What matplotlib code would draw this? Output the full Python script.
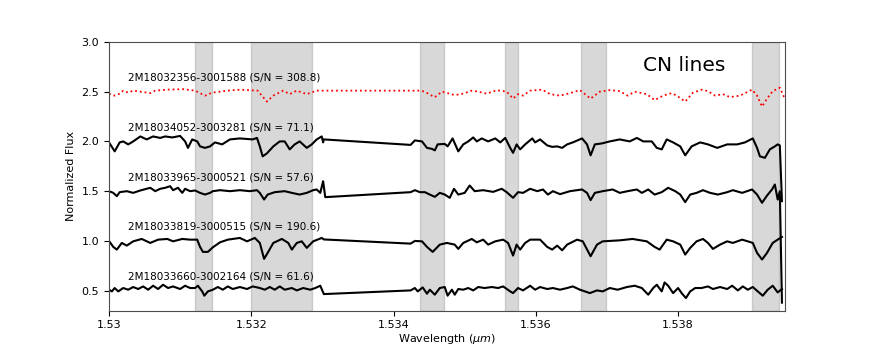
from matplotlib import pyplot as plt

# star ids, S/N and vertical offsets (top to bottom)
names = ['2M18032356-3001588', '2M18034052-3003281', '2M18033965-3000521',
         '2M18033819-3000515', '2M18033660-3002164']
snr = [308.8, 71.1, 57.6, 190.6, 61.6]
offsets = [1.5, 1.0, 0.5, 0.0, -0.5]

# CN line windows
cn_start = [1.53121, 1.53200, 1.53437, 1.53557, 1.53663, 1.53904]
cn_end = [1.53145, 1.53286, 1.53471, 1.53575, 1.53698, 1.53942]

xticks = [1.530, 1.532, 1.534, 1.536, 1.538]
xtick_labels = ['1.53', '1.532', '1.534', '1.536', '1.538']

# high S/N star
wave_a = [1.53000, 1.53008, 1.53015, 1.53020, 1.53027, 1.53034, 1.53044, 1.53058, 1.53065, 1.53082,
          1.53104, 1.53121, 1.53128, 1.53135, 1.53145, 1.53156, 1.53166, 1.53184, 1.53209, 1.53216,
          1.53222, 1.53231, 1.53245, 1.53254, 1.53264, 1.53278, 1.53292, 1.53315, 1.53353, 1.53395,
          1.53437, 1.53444, 1.53451, 1.53458, 1.53468, 1.53476, 1.53486, 1.53498, 1.53510, 1.53519,
          1.53531, 1.53545, 1.53559, 1.53568, 1.53575, 1.53582, 1.53592, 1.53609, 1.53620, 1.53634,
          1.53648, 1.53662, 1.53677, 1.53690, 1.53704, 1.53718, 1.53729, 1.53739, 1.53756, 1.53767,
          1.53779, 1.53791, 1.53798, 1.53810, 1.53821, 1.53833, 1.53842, 1.53852, 1.53863, 1.53873,
          1.53887, 1.53904, 1.53911, 1.53918, 1.53925, 1.53933, 1.53943, 1.53949]
flux_a = [0.98, 0.96, 0.98, 1.01, 0.99, 1.01, 1.00, 0.985, 1.01, 1.02,
          1.025, 1.01, 0.985, 0.96, 0.99, 1.00, 1.01, 1.02, 1.01, 0.95,
          0.90, 0.96, 1.01, 0.975, 1.01, 0.975, 1.01, 1.01, 1.01, 1.01,
          1.01, 1.00, 0.97, 0.945, 1.00, 0.985, 0.965, 0.98, 1.01, 1.00,
          0.98, 1.015, 1.00, 0.93, 0.975, 0.96, 1.01, 1.02, 0.975, 0.96,
          0.985, 1.015, 0.93, 1.00, 1.015, 1.005, 0.96, 1.00, 0.975, 0.915,
          0.96, 0.985, 0.96, 0.90, 0.99, 1.02, 1.005, 0.96, 0.975, 0.945,
          0.96, 1.02, 0.96, 0.85, 0.93, 1.005, 1.04, 0.945]

wave_b = [1.53000, 1.53008, 1.53015, 1.53020, 1.53027, 1.53034, 1.53044, 1.53053, 1.53062, 1.53072,
          1.53079, 1.53089, 1.53100, 1.53107, 1.53111, 1.53117, 1.53124, 1.53128, 1.53135, 1.53142,
          1.53149, 1.53159, 1.53170, 1.53184, 1.53202, 1.53208, 1.53212, 1.53216, 1.53222, 1.53231,
          1.53240, 1.53247, 1.53254, 1.53261, 1.53268, 1.53278, 1.53285, 1.53292, 1.53299, 1.53301,
          1.53302, 1.53424, 1.53430, 1.53440, 1.53447, 1.53454, 1.53458, 1.53462, 1.53472, 1.53476,
          1.53483, 1.53491, 1.53498, 1.53505, 1.53512, 1.53517, 1.53524, 1.53533, 1.53543, 1.53550,
          1.53557, 1.53564, 1.53568, 1.53573, 1.53578, 1.53585, 1.53595, 1.53599, 1.53606, 1.53616,
          1.53623, 1.53630, 1.53637, 1.53644, 1.53652, 1.53665, 1.53672, 1.53677, 1.53683, 1.53693,
          1.53704, 1.53718, 1.53732, 1.53742, 1.53751, 1.53763, 1.53770, 1.53777, 1.53784, 1.53793,
          1.53803, 1.53810, 1.53819, 1.53831, 1.53842, 1.53855, 1.53869, 1.53883, 1.53894, 1.53905,
          1.53911, 1.53915, 1.53922, 1.53929, 1.53936, 1.53940, 1.53943, 1.53946]
flux_b = [0.99, 0.90, 0.99, 1.00, 0.97, 1.00, 1.05, 1.02, 1.05, 1.035,
          1.05, 1.04, 1.055, 1.00, 0.935, 1.02, 1.00, 0.95, 0.935, 0.95,
          0.99, 0.97, 1.02, 1.03, 1.02, 1.035, 0.95, 0.85, 0.88, 0.95,
          1.00, 1.00, 0.92, 0.97, 1.00, 0.935, 0.97, 1.02, 1.05, 0.99,
          1.02, 0.965, 1.01, 1.00, 0.935, 0.925, 0.91, 0.97, 0.975, 0.95,
          1.03, 0.90, 0.97, 1.00, 1.04, 1.00, 1.03, 1.00, 1.03, 0.99,
          1.035, 0.935, 0.885, 0.97, 0.92, 0.97, 1.03, 0.99, 1.02, 0.96,
          0.945, 0.95, 0.935, 0.97, 0.99, 1.03, 0.97, 0.86, 0.97, 0.98,
          1.00, 1.02, 1.00, 1.035, 1.00, 1.00, 0.935, 0.92, 1.02, 0.99,
          0.95, 0.86, 0.95, 0.99, 0.97, 0.935, 0.97, 0.97, 0.99, 1.03,
          0.935, 0.85, 0.835, 0.92, 0.95, 0.97, 0.96, 0.40]

wave_c = [1.53000, 1.53006, 1.53011, 1.53015, 1.53025, 1.53034, 1.53044, 1.53058, 1.53065, 1.53072,
          1.53079, 1.53086, 1.53090, 1.53097, 1.53103, 1.53107, 1.53114, 1.53121, 1.53128, 1.53135,
          1.53142, 1.53146, 1.53156, 1.53170, 1.53184, 1.53198, 1.53208, 1.53212, 1.53218, 1.53223,
          1.53233, 1.53247, 1.53257, 1.53268, 1.53278, 1.53287, 1.53292, 1.53297, 1.53301, 1.53304,
          1.53424, 1.53430, 1.53437, 1.53444, 1.53451, 1.53458, 1.53465, 1.53472, 1.53479, 1.53485,
          1.53491, 1.53500, 1.53507, 1.53514, 1.53526, 1.53540, 1.53552, 1.53559, 1.53568, 1.53575,
          1.53582, 1.53592, 1.53602, 1.53610, 1.53617, 1.53624, 1.53634, 1.53648, 1.53665, 1.53672,
          1.53677, 1.53683, 1.53694, 1.53708, 1.53718, 1.53729, 1.53742, 1.53749, 1.53758, 1.53767,
          1.53777, 1.53786, 1.53796, 1.53803, 1.53810, 1.53817, 1.53826, 1.53835, 1.53845, 1.53856,
          1.53869, 1.53877, 1.53890, 1.53904, 1.53911, 1.53918, 1.53925, 1.53932, 1.53936, 1.53940,
          1.53943, 1.53946]
flux_c = [1.00, 0.983, 0.95, 0.99, 1.00, 0.983, 1.007, 1.034, 1.00, 1.024,
          1.034, 1.05, 1.01, 1.034, 0.983, 1.024, 1.00, 1.007, 0.983, 0.966,
          0.983, 1.00, 1.01, 1.00, 1.01, 1.00, 1.01, 0.983, 0.916, 0.966,
          0.99, 1.00, 0.983, 0.966, 0.983, 1.01, 1.017, 0.983, 1.10, 0.94,
          0.99, 1.01, 0.99, 0.99, 0.966, 0.943, 0.983, 0.966, 0.933, 1.024,
          0.966, 0.983, 1.057, 1.00, 1.01, 0.993, 1.024, 0.99, 0.933, 0.99,
          0.983, 1.024, 1.00, 1.017, 0.966, 1.00, 0.97, 1.00, 1.017, 0.983,
          0.91, 0.983, 1.00, 1.017, 0.983, 1.00, 1.017, 0.983, 1.017, 0.966,
          0.99, 1.034, 1.00, 0.966, 0.89, 0.966, 0.983, 1.01, 0.983, 0.966,
          0.99, 1.01, 0.983, 1.017, 0.966, 0.883, 0.956, 1.017, 1.067, 0.916,
          1.00, -0.12]

wave_d = [1.53000, 1.53006, 1.53011, 1.53018, 1.53025, 1.53034, 1.53046, 1.53058, 1.53069, 1.53082,
          1.53090, 1.53103, 1.53114, 1.53124, 1.53128, 1.53132, 1.53139, 1.53146, 1.53156, 1.53167,
          1.53184, 1.53194, 1.53205, 1.53212, 1.53218, 1.53223, 1.53231, 1.53243, 1.53252, 1.53257,
          1.53264, 1.53271, 1.53278, 1.53287, 1.53299, 1.53302, 1.53424, 1.53430, 1.53440, 1.53447,
          1.53455, 1.53465, 1.53475, 1.53486, 1.53491, 1.53498, 1.53510, 1.53517, 1.53526, 1.53533,
          1.53543, 1.53554, 1.53561, 1.53568, 1.53573, 1.53578, 1.53585, 1.53592, 1.53606, 1.53616,
          1.53623, 1.53630, 1.53637, 1.53644, 1.53658, 1.53666, 1.53677, 1.53686, 1.53694, 1.53718,
          1.53736, 1.53756, 1.53767, 1.53774, 1.53784, 1.53793, 1.53803, 1.53810, 1.53817, 1.53826,
          1.53835, 1.53842, 1.53849, 1.53859, 1.53869, 1.53877, 1.53890, 1.53898, 1.53905, 1.53911,
          1.53918, 1.53925, 1.53933, 1.53940, 1.53946]
flux_d = [1.00, 0.94, 0.913, 0.98, 0.953, 0.996, 1.02, 0.98, 1.013, 1.02,
          0.996, 1.02, 1.013, 1.013, 0.94, 0.89, 0.89, 0.936, 0.986, 1.013,
          1.03, 0.996, 1.03, 0.98, 0.82, 0.88, 0.98, 1.02, 0.98, 0.913,
          0.98, 0.996, 0.93, 0.996, 1.03, 1.015, 0.973, 1.00, 0.996, 0.94,
          0.89, 0.963, 0.98, 0.963, 0.92, 0.98, 1.02, 0.986, 1.013, 0.963,
          0.996, 1.013, 0.98, 0.853, 0.963, 0.913, 0.98, 1.013, 1.013, 0.94,
          0.913, 0.953, 0.906, 0.963, 1.013, 0.996, 0.846, 0.963, 0.996, 1.006,
          1.02, 0.996, 0.94, 0.913, 1.013, 0.996, 0.963, 0.863, 0.93, 0.996,
          1.02, 0.98, 0.92, 0.963, 0.996, 0.98, 1.013, 0.996, 0.98, 0.88,
          0.813, 0.88, 0.98, 1.013, 1.04]

wave_e = [1.53000, 1.53004, 1.53008, 1.53013, 1.53020, 1.53027, 1.53034, 1.53041, 1.53048, 1.53055,
          1.53062, 1.53069, 1.53076, 1.53083, 1.53090, 1.53100, 1.53107, 1.53114, 1.53121, 1.53125,
          1.53131, 1.53134, 1.53139, 1.53146, 1.53153, 1.53160, 1.53167, 1.53174, 1.53184, 1.53194,
          1.53202, 1.53212, 1.53219, 1.53226, 1.53233, 1.53240, 1.53247, 1.53257, 1.53264, 1.53273,
          1.53283, 1.53290, 1.53297, 1.53302, 1.53424, 1.53430, 1.53434, 1.53441, 1.53447, 1.53451,
          1.53458, 1.53465, 1.53472, 1.53476, 1.53482, 1.53486, 1.53491, 1.53498, 1.53505, 1.53512,
          1.53519, 1.53528, 1.53538, 1.53547, 1.53554, 1.53564, 1.53568, 1.53575, 1.53582, 1.53592,
          1.53599, 1.53606, 1.53616, 1.53624, 1.53634, 1.53644, 1.53652, 1.53662, 1.53669, 1.53676,
          1.53686, 1.53694, 1.53704, 1.53715, 1.53728, 1.53739, 1.53749, 1.53758, 1.53765, 1.53770,
          1.53777, 1.53781, 1.53786, 1.53793, 1.53800, 1.53805, 1.53811, 1.53817, 1.53824, 1.53833,
          1.53842, 1.53849, 1.53859, 1.53869, 1.53876, 1.53884, 1.53891, 1.53898, 1.53905, 1.53912,
          1.53919, 1.53926, 1.53933, 1.53940, 1.53946]
flux_e = [1.01, 0.993, 1.027, 0.993, 1.027, 1.01, 1.037, 1.017, 1.043, 1.01,
          1.05, 1.017, 1.06, 1.027, 1.043, 1.017, 1.05, 1.027, 1.027, 1.05,
          0.993, 0.95, 0.993, 1.01, 1.037, 1.01, 1.043, 1.017, 1.037, 1.017,
          1.043, 1.027, 1.01, 1.037, 1.01, 1.043, 1.01, 1.027, 1.003, 1.027,
          1.01, 1.027, 1.05, 0.966, 1.003, 1.027, 0.993, 1.033, 0.97, 1.01,
          0.96, 1.027, 1.037, 0.95, 1.01, 0.96, 1.017, 1.01, 1.027, 1.003,
          1.037, 1.027, 1.037, 1.027, 1.043, 0.993, 0.976, 1.027, 1.003, 1.05,
          1.01, 1.037, 1.017, 1.027, 1.01, 1.027, 1.043, 1.01, 0.993, 0.976,
          1.003, 0.993, 1.027, 1.01, 1.037, 1.05, 1.027, 0.96, 1.027, 1.06,
          0.993, 1.083, 1.05, 0.976, 1.027, 0.976, 0.926, 0.993, 1.027, 1.027,
          1.043, 1.017, 1.037, 1.017, 1.05, 1.003, 1.043, 1.01, 1.037, 0.993,
          0.95, 1.01, 1.05, 0.983, 1.017]

waves = [wave_a, wave_b, wave_c, wave_d, wave_e]
fluxes = [flux_a, flux_b, flux_c, flux_d, flux_e]

fig = plt.figure(figsize=(8.72, 3.49), dpi=100)
ax = fig.add_subplot(111)

for a, b in zip(cn_start, cn_end):
    ax.axvspan(a, b, color='gray', alpha=0.3)

for i in range(len(names)):
    y = [f + offsets[i] for f in fluxes[i]]
    if i == 0:
        ax.plot(waves[i], y, 'r:', lw=1.3)
    else:
        ax.plot(waves[i], y, 'k-', lw=1.5)
    ax.text(1.53027, offsets[i] + 1.11, f'{names[i]} (S/N = {snr[i]})', fontsize=7.5)

ax.text(1.5375, 2.71, 'CN lines', fontsize=14.5)

ax.set_xlim(1.53, 1.5395)
ax.set_ylim(0.3, 3.0)
ax.set_xticks(xticks)
ax.set_xticklabels(xtick_labels)
ax.tick_params(labelsize=8)
ax.set_xlabel(r'Wavelength ($\mu m$)', fontsize=8, labelpad=1)
ax.set_ylabel('Normalized Flux', fontsize=8)
for s in ax.spines.values():
    s.set_color('0.3')

fig.savefig('out.png', dpi=100)
